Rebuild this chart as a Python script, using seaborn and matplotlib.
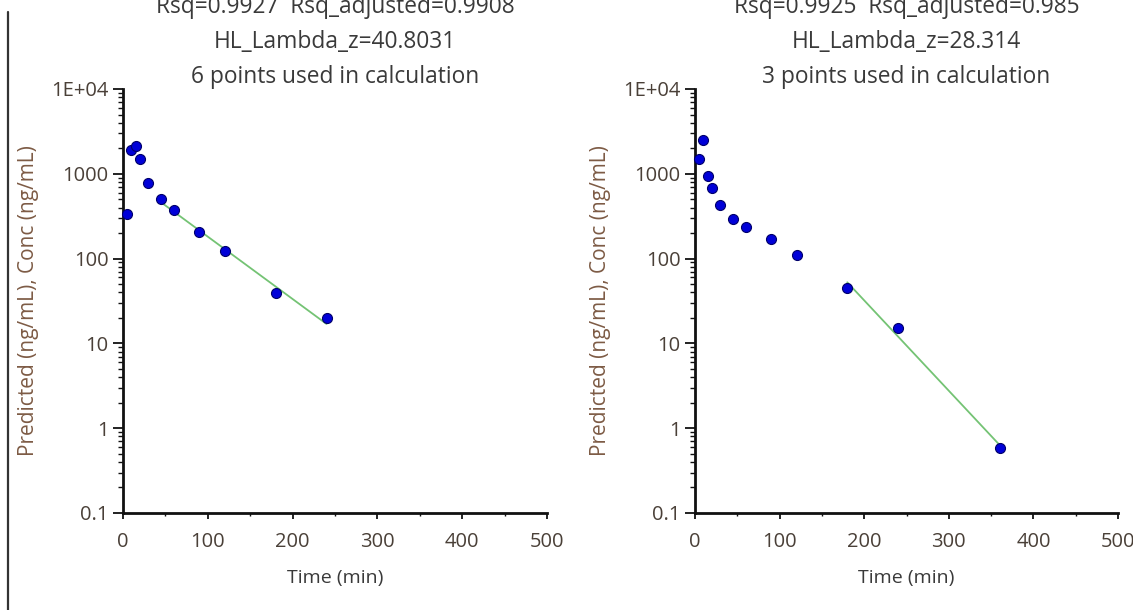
import numpy as np
import pandas as pd
import seaborn as sns
import matplotlib.pyplot as plt
from matplotlib.lines import Line2D
from matplotlib.ticker import FixedLocator, LogLocator, NullFormatter

# Observed concentrations for the two subjects
time_a = [5, 10, 15, 20, 30, 45, 60, 90, 120, 180, 240]
conc_a = [340, 1900, 2100, 1490, 785, 500, 373, 205, 123, 39.2, 19.7]
time_b = [5, 10, 15, 20, 30, 45, 60, 90, 120, 180, 240, 360]
conc_b = [1500, 2500, 950, 673, 427, 292, 233, 168, 109, 45.4, 15.0, 0.59]

# Number of terminal points used for lambda_z regression
points_used = [6, 3]
titles = [
    "Rsq=0.9927  Rsq_adjusted=0.9908\nHL_Lambda_z=40.8031\n6 points used in calculation",
    "Rsq=0.9925  Rsq_adjusted=0.985\nHL_Lambda_z=28.314\n3 points used in calculation",
]

x_ticks = [0, 100, 200, 300, 400, 500]
y_ticks = [0.1, 1, 10, 100, 1000, 10000]
y_tick_labels = ["0.1", "1", "10", "100", "1000", "1E+04"]

sns.set_style("ticks")
plt.rcParams["font.family"] = ["Open Sans", "DejaVu Sans"]

fig = plt.figure(figsize=(11.33, 6.10), dpi=100)
W, H = 1133, 610
ax_a = fig.add_axes([123 / W, 1 - 513 / H, 424 / W, 424 / H])
ax_b = fig.add_axes([695 / W, 1 - 513 / H, 423 / W, 424 / H])

tick_color = "#4a4038"
label_color = "#7d5b45"
title_color = "#3a3a3a"

for ax, t, c, n, title in zip([ax_a, ax_b], [time_a, time_b], [conc_a, conc_b], points_used, titles):
    df = pd.DataFrame({"time": t, "conc": c})

    # terminal log-linear regression
    term = df.tail(n)
    slope, intercept = np.polyfit(term["time"], np.log(term["conc"]), 1)
    fit = pd.DataFrame({"time": [term["time"].iloc[0], term["time"].iloc[-1]]})
    fit["pred"] = np.exp(intercept + slope * fit["time"])

    sns.lineplot(data=fit, x="time", y="pred", ax=ax, color="#74c374", linewidth=1.3, zorder=2)
    sns.scatterplot(data=df, x="time", y="conc", ax=ax, color="#0000d8", edgecolor="#00006a",
                    linewidth=0.8, s=52, zorder=3, clip_on=False)

    ax.set_yscale("log")
    ax.set_xlim(0, 500)
    ax.set_ylim(0.1, 10000)
    ax.xaxis.set_major_locator(FixedLocator(x_ticks))
    ax.xaxis.set_minor_locator(FixedLocator([50, 150, 250, 350, 450]))
    ax.yaxis.set_major_locator(FixedLocator(y_ticks))
    ax.set_yticklabels(y_tick_labels)
    ax.yaxis.set_minor_locator(LogLocator(base=10, subs=np.arange(2, 10)))
    ax.yaxis.set_minor_formatter(NullFormatter())

    sns.despine(ax=ax)
    for side in ["left", "bottom"]:
        ax.spines[side].set_linewidth(2.0)
        ax.spines[side].set_color("#111111")
    ax.tick_params(axis="both", which="both", direction="out", colors="#111111",
                   labelcolor=tick_color, labelsize=14.5)
    ax.tick_params(axis="y", which="major", length=7.5, width=1.3, pad=3)
    ax.tick_params(axis="y", which="minor", length=3.5, width=1.0)
    ax.tick_params(axis="x", which="major", length=4, width=1.3, pad=10)
    ax.tick_params(axis="x", which="minor", length=2.5, width=1.0)

    ax.set_xlabel("Time (min)", fontsize=14, color="#3a3a3a", labelpad=12)
    ax.set_ylabel("Predicted (ng/mL), Conc (ng/mL)", fontsize=15, color=label_color, labelpad=9)
    # first title line runs off the top edge, as in the original screenshot
    ax.set_title(title, fontsize=16.4, color=title_color, linespacing=1.6, pad=3)

# vertical separator at the left edge
fig.add_artist(Line2D([8 / W, 8 / W], [0, 1 - 12 / H], transform=fig.transFigure,
                      color="#333333", linewidth=1.6))

plt.savefig("out.png", dpi=100)
